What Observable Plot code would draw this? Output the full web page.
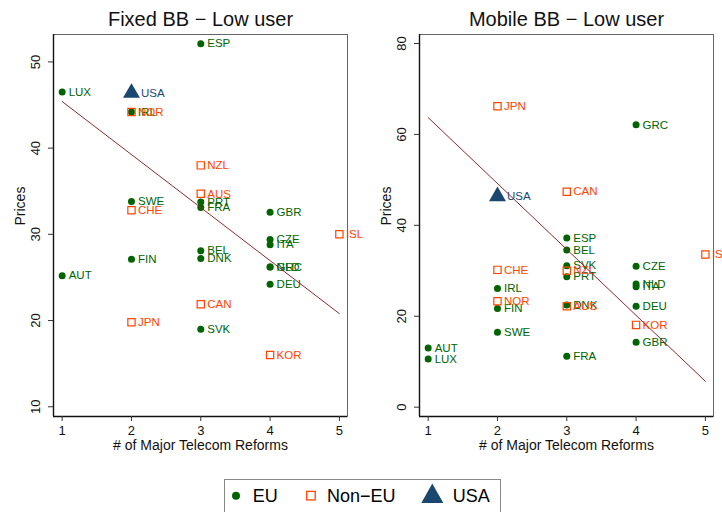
<!DOCTYPE html>
<html><head><meta charset="utf-8">
<script src="https://cdn.jsdelivr.net/npm/d3@7"></script>
<script src="https://cdn.jsdelivr.net/npm/@observablehq/plot@0.6"></script>
<style>
body{margin:0;background:#fff;font-family:"Liberation Sans",Arial,sans-serif;}
#wrap{position:relative;width:722px;height:512px;overflow:hidden;background:#fff;}
.panel{position:absolute;top:0;}
#legend{position:absolute;left:224px;top:479px;overflow:visible;}
</style></head>
<body>
<div id="wrap">
  <div id="left" class="panel" style="left:0px"></div>
  <div id="right" class="panel" style="left:361px"></div>
  <svg id="legend" width="278" height="40">
    <rect x="0.5" y="0.5" width="276" height="45" fill="none" stroke="#888" stroke-width="1"/>
    <circle cx="12" cy="16.7" r="4" fill="#006400"/>
    <text x="28.7" y="16.7" dy="0.36em" font-size="18" font-family="Liberation Sans, Arial, sans-serif" fill="#000">EU</text>
    <rect x="82.7" y="12.4" width="8.5" height="8.5" fill="none" stroke="#ff4500" stroke-width="1.3"/>
    <text x="103" y="16.7" dy="0.36em" font-size="18" font-family="Liberation Sans, Arial, sans-serif" fill="#000">Non−EU</text>
    <path d="M208.3,4.5 L219.3,24 L197.3,24 Z" fill="#1a476f"/>
    <text x="228.7" y="16.7" dy="0.36em" font-size="18" font-family="Liberation Sans, Arial, sans-serif" fill="#000">USA</text>
  </svg>
</div>
<script>
// ---- data ----
const countries = ["LUX","AUT","USA","IRL","NOR","SWE","CHE","FIN","JPN","ESP","NZL","AUS","PRT","FRA","BEL","DNK","CAN","SVK","GBR","CZE","ITA","GRC","NLD","DEU","KOR","ISL"];
const groups = ["EU","EU","USA","EU","Non-EU","EU","Non-EU","EU","Non-EU","EU","Non-EU","Non-EU","EU","EU","EU","EU","Non-EU","EU","EU","EU","EU","EU","EU","EU","Non-EU","Non-EU"];
const reforms = [1,1,2,2,2,2,2,2,2,3,3,3,3,3,3,3,3,3,4,4,4,4,4,4,4,5];
const fixedPrices = [46.5,25.2,46.4,44.2,44.2,33.8,32.8,27.1,19.8,52.1,38.0,34.7,33.75,33.1,28.1,27.2,21.9,19.0,32.55,29.4,28.8,26.2,26.2,24.2,16.0,30.0];
const mobilePrices = [10.6,13.0,46.4,26.1,23.3,16.5,30.2,21.7,66.2,37.2,30.0,22.2,28.7,11.2,34.6,22.5,47.4,31.1,14.3,31.0,26.5,62.1,27.1,22.2,18.1,33.6];
const fitReforms = [1,5];
const fixedFit = [45.4,20.8];
const mobileFit = [63.7,5.7];
const xTicks = [1,2,3,4,5];
const fixedTicks = [10,20,30,40,50];
const mobileTicks = [0,20,40,60,80];
const titles = ["Fixed BB − Low user","Mobile BB − Low user"];
const yLabel = "Prices";
const xLabel = "# of Major Telecom Reforms";

// ---- styles ----
const colors = {"EU":"#006400","Non-EU":"#ff4500","USA":"#1a476f"};
const font = "Liberation Sans, Arial, sans-serif";
const xDomain = [0.875, 5.117];

function panel({title, prices, fit, yDomain, yTicks, width, marginLeft, marginRight}) {
  const rows = countries.map((c,i)=>({country:c, group:groups[i], reforms:reforms[i], price:prices[i]}));
  const fitRows = fitReforms.map((r,i)=>({reforms:r, price:fit[i]}));
  const eu = rows.filter(d=>d.group==="EU");
  const non = rows.filter(d=>d.group==="Non-EU");
  const usa = rows.filter(d=>d.group==="USA");
  const lab = (data, g, dx) => Plot.text(data, {x:"reforms", y:"price", text:"country", textAnchor:"start", dx, fontSize:11.5, fill:colors[g]});
  return Plot.plot({
    width, height:460,
    marginTop:34, marginBottom:44, marginLeft, marginRight,
    style:{fontFamily:font, background:"transparent", overflow:"visible"},
    x:{domain:xDomain},
    y:{domain:yDomain},
    marks:[
      Plot.frame({stroke:"#666", strokeWidth:1}),
      Plot.ruleX([xDomain[0]], {stroke:"#111", strokeWidth:1.4}),
      Plot.ruleY([yDomain[0]], {stroke:"#111", strokeWidth:1.4}),
      Plot.axisX({ticks:xTicks, tickFormat:d=>String(d), tickSize:5, tickPadding:4, fontSize:13, label:null, stroke:"#333", fill:"#111"}),
      Plot.axisY({ticks:yTicks, tickFormat:d=>String(d), tickSize:5, tickRotate:-90, tickPadding:9, fontSize:13, label:null, stroke:"#333", fill:"#111"}),
      Plot.text([title], {frameAnchor:"top", lineAnchor:"middle", dy:-15, fontSize:20, fill:"#111"}),
      Plot.text([yLabel], {frameAnchor:"left", lineAnchor:"middle", dx:-33, rotate:-90, fontSize:14, fill:"#111"}),
      Plot.text([xLabel], {frameAnchor:"bottom", lineAnchor:"middle", dy:29, fontSize:14, fill:"#111"}),
      Plot.dot(eu, {x:"reforms", y:"price", symbol:"circle", r:3.5, fill:colors["EU"], stroke:"none"}),
      lab(eu, "EU", 6.5),
      Plot.dot(non, {x:"reforms", y:"price", symbol:"square", r:4.1, fill:"none", stroke:colors["Non-EU"], strokeWidth:1.2}),
      lab(non, "Non-EU", 6.5),
      Plot.dot(usa, {x:"reforms", y:"price", symbol:"triangle", r:6.3, fill:colors["USA"], stroke:"none"}),
      lab(usa, "USA", 9.5),
      Plot.line(fitRows, {x:"reforms", y:"price", stroke:"#8c2a2a", strokeWidth:1})
    ]
  });
}

document.getElementById("left").append(panel({
  title:titles[0], prices:fixedPrices, fit:fixedFit,
  yDomain:[8.87, 53.18], yTicks:fixedTicks, width:361, marginLeft:53, marginRight:14
}));
document.getElementById("right").append(panel({
  title:titles[1], prices:mobilePrices, fit:mobileFit,
  yDomain:[-2.05, 81.98], yTicks:mobileTicks, width:361, marginLeft:58, marginRight:9
}));
</script>
</body></html>
